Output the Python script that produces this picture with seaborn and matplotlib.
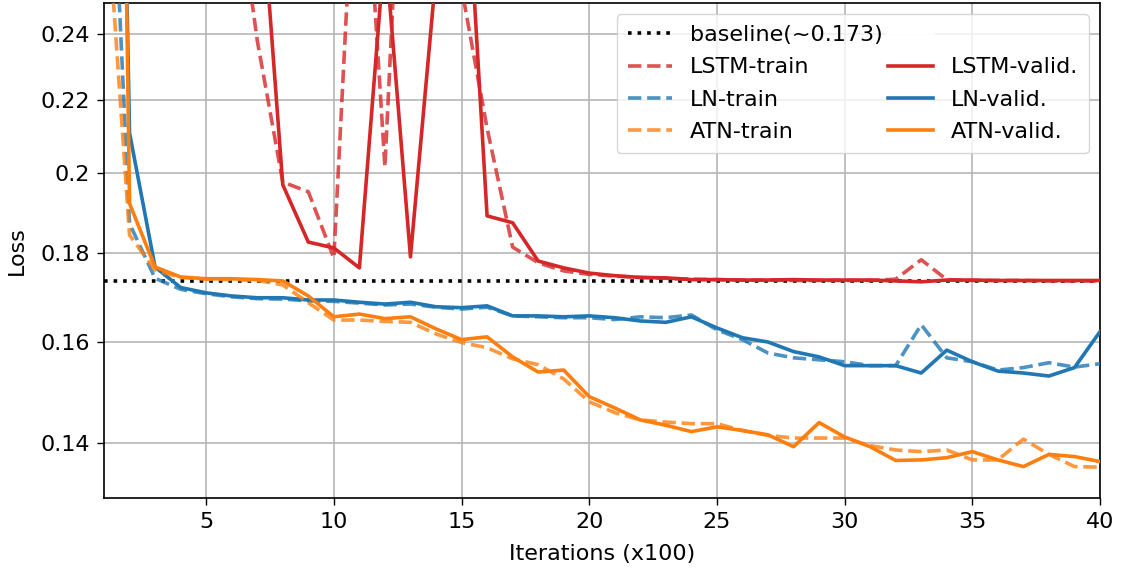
import numpy as np
import pandas as pd
import matplotlib
matplotlib.use("Agg")
import matplotlib.pyplot as plt
import seaborn as sns
from matplotlib.lines import Line2D
from matplotlib.ticker import FixedLocator, FixedFormatter, NullLocator

# ---------------- data ----------------
iterations = list(range(1, 41))

lstm_train = [0.69, 0.60, 0.50, 0.42, 0.36, 0.305, 0.238, 0.1975, 0.1950, 0.1787,
              0.345, 0.2015, 0.404, 0.36, 0.255, 0.212, 0.1813, 0.1776, 0.1757, 0.1749,
              0.1745, 0.1742, 0.1740, 0.1738, 0.1737, 0.1736, 0.1736, 0.1735, 0.1735, 0.1735,
              0.1735, 0.1738, 0.1783, 0.1737, 0.1735, 0.1735, 0.1735, 0.1734, 0.1734, 0.1734]
lstm_valid = [0.69, 0.62, 0.55, 0.48, 0.42, 0.36, 0.309, 0.1968, 0.1825, 0.1811,
              0.1764, 0.27, 0.1790, 0.26, 0.335, 0.1889, 0.1872, 0.1780, 0.1764, 0.1752,
              0.1746, 0.1742, 0.1741, 0.1737, 0.1737, 0.1736, 0.1736, 0.1737, 0.1736, 0.1736,
              0.1736, 0.1734, 0.1732, 0.1736, 0.1736, 0.1735, 0.1735, 0.1735, 0.1735, 0.1735]
ln_train = [0.386, 0.187, 0.1740, 0.1715, 0.1705, 0.1698, 0.1694, 0.1693, 0.1689, 0.1688,
            0.1684, 0.1680, 0.1682, 0.1675, 0.1671, 0.1675, 0.1656, 0.1654, 0.1652, 0.1652,
            0.1648, 0.1654, 0.1652, 0.1658, 0.1626, 0.1605, 0.1577, 0.1567, 0.1563, 0.1559,
            0.1551, 0.1551, 0.1637, 0.1567, 0.1559, 0.1542, 0.1547, 0.1557, 0.1548, 0.1555]
ln_valid = [1.2, 0.2107, 0.1766, 0.1719, 0.1707, 0.1700, 0.1696, 0.1696, 0.1691, 0.1691,
            0.1686, 0.1682, 0.1686, 0.1676, 0.1674, 0.1678, 0.1656, 0.1656, 0.1654, 0.1656,
            0.1652, 0.1645, 0.1642, 0.1654, 0.1630, 0.1609, 0.1600, 0.1580, 0.1569, 0.1551,
            0.1551, 0.1551, 0.1536, 0.1583, 0.1559, 0.1540, 0.1536, 0.1530, 0.1547, 0.1622]
atn_train = [0.30, 0.1842, 0.1759, 0.1742, 0.1738, 0.1737, 0.1735, 0.1725, 0.1685, 0.1647,
             0.1647, 0.1644, 0.1642, 0.1617, 0.1599, 0.1588, 0.1565, 0.1553, 0.1524, 0.1479,
             0.1458, 0.1444, 0.1440, 0.1437, 0.1437, 0.1424, 0.1415, 0.1410, 0.1410, 0.1410,
             0.1396, 0.1388, 0.1385, 0.1388, 0.1370, 0.1370, 0.1408, 0.1380, 0.1358, 0.1357]
atn_valid = [2.0, 0.192, 0.1766, 0.1743, 0.1739, 0.1739, 0.1737, 0.1734, 0.1700, 0.1654,
             0.1660, 0.1650, 0.1654, 0.1628, 0.1605, 0.1611, 0.1569, 0.1538, 0.1542, 0.1489,
             0.1467, 0.1444, 0.1434, 0.1422, 0.1431, 0.1424, 0.1416, 0.1394, 0.1439, 0.1412,
             0.1394, 0.1369, 0.1370, 0.1374, 0.1385, 0.1370, 0.1358, 0.1380, 0.1376, 0.1367]

baseline_value = 0.1734
baseline_label = "baseline(~0.173)"

y_ticks = [0.14, 0.16, 0.18, 0.20, 0.22, 0.24]
y_tick_labels = ["0.14", "0.16", "0.18", "0.2", "0.22", "0.24"]
x_ticks = [5, 10, 15, 20, 25, 30, 35, 40]

models = ["LSTM", "LN", "ATN"]
train_series = {"LSTM": lstm_train, "LN": ln_train, "ATN": atn_train}
valid_series = {"LSTM": lstm_valid, "LN": ln_valid, "ATN": atn_valid}
colors = {"LSTM": "#d62728", "LN": "#1f77b4", "ATN": "#ff7f0e"}

# ---------------- plot ----------------
plt.rcParams["font.family"] = ["DejaVu Sans"]
plt.rcParams["font.size"] = 16

fig = plt.figure(figsize=(11.28, 5.71), dpi=100)
ax = fig.add_axes([104 / 1128, 1 - 498 / 571, (1100 - 104) / 1128, (498 - 3) / 571])
ax.set_yscale("log")

lw = 2.6
ax.axhline(baseline_value, color="black", linestyle=":", lw=lw, zorder=2)

for m in models:
    df_v = pd.DataFrame({"it": iterations, "loss": valid_series[m]})
    df_t = pd.DataFrame({"it": iterations, "loss": train_series[m]})
    sns.lineplot(data=df_v, x="it", y="loss", ax=ax, color=colors[m], lw=lw,
                 linestyle="-", legend=False, zorder=3)
    sns.lineplot(data=df_t, x="it", y="loss", ax=ax, color=colors[m], lw=lw,
                 linestyle="--", alpha=0.8, legend=False, zorder=3)

ax.set_xlim(1, 40)
ax.set_ylim(0.1303, 0.250)
ax.yaxis.set_major_locator(FixedLocator(y_ticks))
ax.yaxis.set_major_formatter(FixedFormatter(y_tick_labels))
ax.yaxis.set_minor_locator(NullLocator())
ax.set_xticks(x_ticks)
ax.grid(True, color="#b0b0b0", lw=1.1)
ax.set_axisbelow(True)
for s in ax.spines.values():
    s.set_color("black")
    s.set_linewidth(1.2)
ax.tick_params(direction="out", length=5, width=1.0, labelsize=16, pad=5)

ax.set_xlabel("Iterations (x100)", fontsize=16, labelpad=9)
ax.set_ylabel("Loss", fontsize=16, labelpad=10)

handles = [Line2D([], [], color="black", ls=":", lw=lw)]
labels = [baseline_label]
for m in models:
    handles.append(Line2D([], [], color=colors[m], ls="--", lw=lw, alpha=0.8))
    labels.append(f"{m}-train")
handles.append(Line2D([], [], color="white", ls="-", lw=lw))
labels.append(" ")
for m in models:
    handles.append(Line2D([], [], color=colors[m], ls="-", lw=lw))
    labels.append(f"{m}-valid.")

ax.legend(handles, labels, ncol=2, loc="upper right", fontsize=16,
          columnspacing=0.25, labelspacing=0.55, framealpha=0.8,
          borderaxespad=0.5, borderpad=0.5)

fig.savefig("out.png", dpi=100)
